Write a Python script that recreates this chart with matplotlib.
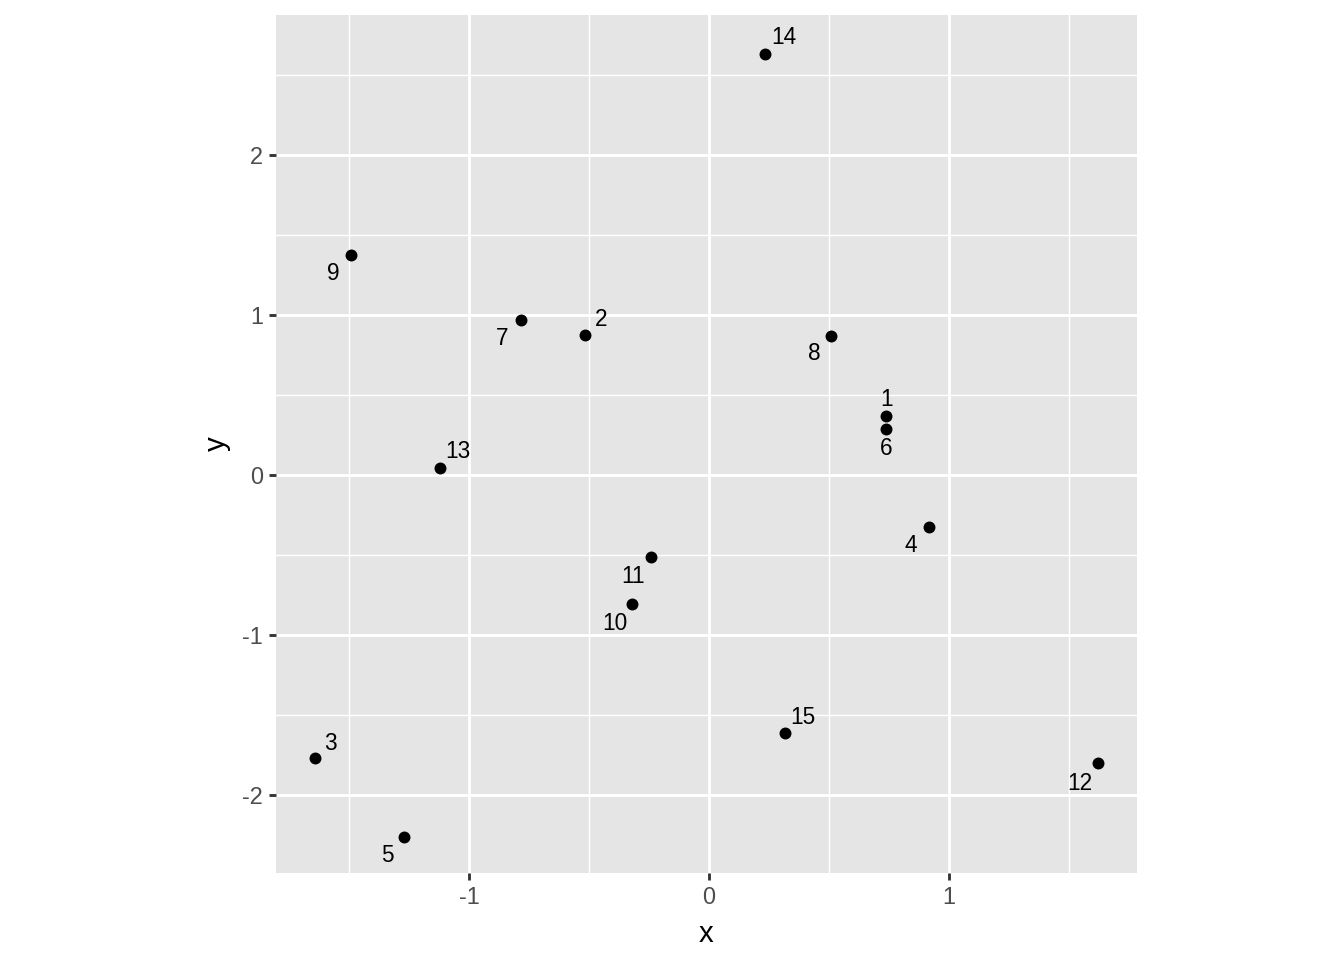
import matplotlib
matplotlib.use("Agg")
import matplotlib.pyplot as plt

# --------------------------
# DATA
# --------------------------
labels = ["1", "2", "3", "4", "5", "6", "7", "8", "9", "10", "11", "12", "13", "14", "15"]
x_vals = [0.738, -0.517, -1.642, 0.917, -1.271, 0.738, -0.783, 0.508, -1.492,
          -0.321, -0.242, 1.621, -1.121, 0.233, 0.317]
y_vals = [0.369, 0.875, -1.769, -0.325, -2.263, 0.288, 0.969, 0.869, 1.375,
          -0.806, -0.513, -1.800, 0.044, 2.631, -1.613]

# label nudges (pixels, like ggrepel put them)
nudges = [(0, 16), (16, 15), (16, 15), (-18, -19), (-17, -18), (0, -20),
          (-19, -19), (-17, -18), (-18, -18), (-17, -20), (-18, -19),
          (-18, -20), (18, 16), (19, 17), (18, 16)]

plt.rcParams["font.family"] = ["Liberation Sans", "DejaVu Sans"]
plt.rcParams["axes.unicode_minus"] = False

DPI = 192
px = 72.0 / DPI

fig = plt.figure(figsize=(1344 / DPI, 960 / DPI), dpi=DPI)
ax = fig.add_axes([276 / 1344, 1 - 873 / 960, (1137 - 276) / 1344, (873 - 15) / 960])

ax.set_facecolor("#E5E5E5")
ax.set_xlim(-1.804, 1.783)
ax.set_ylim(-2.4875, 2.875)

ax.set_xticks([-1, 0, 1])
ax.set_yticks([-2, -1, 0, 1, 2])
ax.set_xticks([-1.5, -0.5, 0.5, 1.5], minor=True)
ax.set_yticks([-1.5, -0.5, 0.5, 1.5, 2.5], minor=True)
ax.grid(True, which="major", color="white", linewidth=1.07)
ax.grid(True, which="minor", color="white", linewidth=0.53)
ax.set_axisbelow(True)

for s in ax.spines.values():
    s.set_visible(False)

ax.tick_params(which="major", length=2.75, width=1.07, color="#333333",
               labelsize=8.8, labelcolor="#4D4D4D", pad=2.2)
ax.tick_params(which="minor", length=0)

ax.scatter(x_vals, y_vals, s=20, color="black", zorder=3, linewidths=0)

for lab, xv, yv, (dx, dy) in zip(labels, x_vals, y_vals, nudges):
    ax.annotate(lab, (xv, yv), xytext=(dx * px, dy * px), textcoords="offset points",
                ha="center", va="center", fontsize=8.5, color="black", zorder=4)

ax.set_xlabel("x", fontsize=11, labelpad=4)
ax.set_ylabel("y", fontsize=11, labelpad=4)

fig.savefig("out.png", dpi=DPI, facecolor="white")
